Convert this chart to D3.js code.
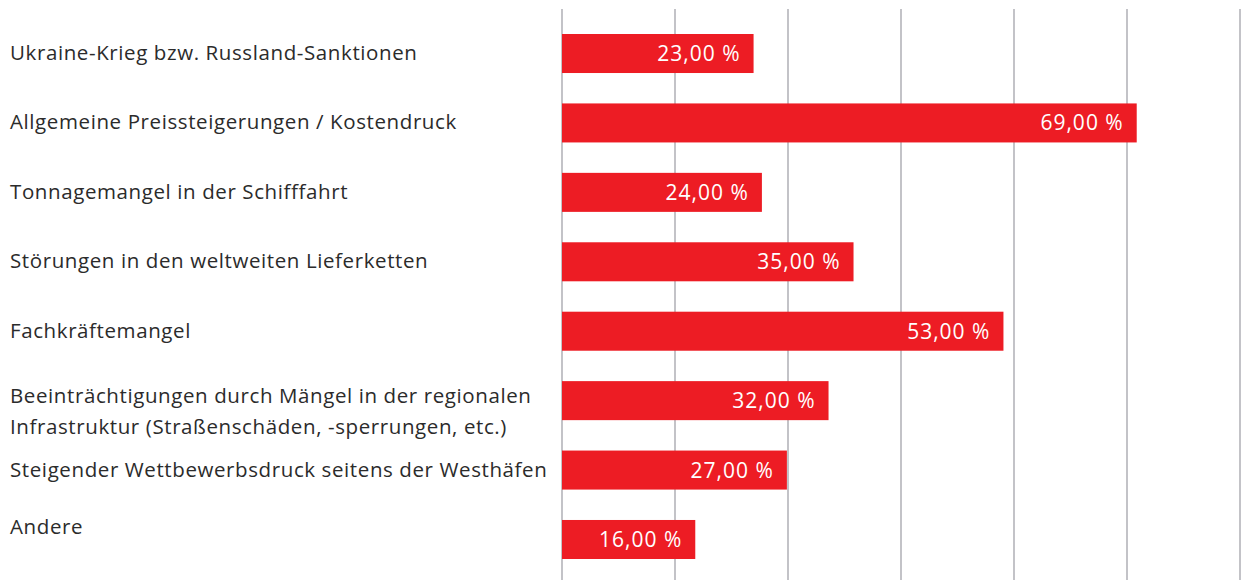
<!DOCTYPE html>
<html>
<head>
<meta charset="utf-8">
<script src="https://cdnjs.cloudflare.com/ajax/libs/d3/7.8.5/d3.min.js"></script>
<style>
  body { margin: 0; background: #fff; }
  svg { display: block; }
</style>
</head>
<body>
<div id="chart"></div>
<script>
// categories (label lines) and values in percent
var categories = [
  ["Ukraine-Krieg bzw. Russland-Sanktionen"],
  ["Allgemeine Preissteigerungen / Kostendruck"],
  ["Tonnagemangel in der Schifffahrt"],
  ["Störungen in den weltweiten Lieferketten"],
  ["Fachkräftemangel"],
  ["Beeinträchtigungen durch Mängel in der regionalen", "Infrastruktur (Straßenschäden, -sperrungen, etc.)"],
  ["Steigender Wettbewerbsdruck seitens der Westhäfen"],
  ["Andere"]
];
var values = [23, 69, 24, 35, 53, 32, 27, 16];
var xMax = 81.4;
var gridCount = 6;

var width = 1243, height = 580;
var red = "#ed1c24";

var svg = d3.select("#chart").append("svg")
    .attr("width", width)
    .attr("height", height);

var x = d3.scaleLinear().domain([0, xMax]).range([562, 1240]);

var y = d3.scaleBand()
    .domain(d3.range(values.length))
    .range([18.8, 574.2])
    .paddingInner(0.438)
    .paddingOuter(0.219);

var fmt = function(v) { return d3.format(".2f")(v).replace(".", ",") + " %"; };

// grid lines
svg.append("g").selectAll("line")
    .data(d3.range(gridCount + 1).map(function(i) { return i * xMax / gridCount; }))
    .enter().append("line")
    .attr("x1", function(d) { return x(d); })
    .attr("x2", function(d) { return x(d); })
    .attr("y1", 9)
    .attr("y2", height)
    .attr("stroke", "#b4b4ba")
    .attr("stroke-width", 1.6);

// bars
svg.append("g").selectAll("rect")
    .data(values)
    .enter().append("rect")
    .attr("x", x(0))
    .attr("y", function(d, i) { return y(i); })
    .attr("width", function(d) { return x(d) - x(0); })
    .attr("height", y.bandwidth())
    .attr("fill", red);

// value labels
svg.append("g").selectAll("text")
    .data(values)
    .enter().append("text")
    .attr("x", function(d) { return x(d) - 13; })
    .attr("y", function(d, i) { return y(i) + y.bandwidth() / 2 + 7.5; })
    .attr("text-anchor", "end")
    .attr("fill", "#fff")
    .attr("font-family", "'Open Sans', sans-serif")
    .attr("font-size", 21)
    .attr("letter-spacing", 1)
    .text(fmt);

// category labels
var lab = svg.append("g").selectAll("text")
    .data(categories)
    .enter().append("text")
    .attr("x", 10)
    .attr("y", function(d, i) {
        var c = y(i) + y.bandwidth() / 2 + 6.5;
        if (d.length > 1) c -= 4;
        if (i === categories.length - 1) c -= 12;
        return c;
    })
    .attr("fill", "#2b2b2b")
    .attr("font-family", "'Open Sans', sans-serif")
    .attr("font-size", 20.5)
    .attr("letter-spacing", 0.6);

lab.selectAll("tspan")
    .data(function(d) { return d; })
    .enter().append("tspan")
    .attr("x", 10)
    .attr("dy", function(d, j) { return j === 0 ? 0 : 31; })
    .text(function(d) { return d; });
</script>
</body>
</html>
